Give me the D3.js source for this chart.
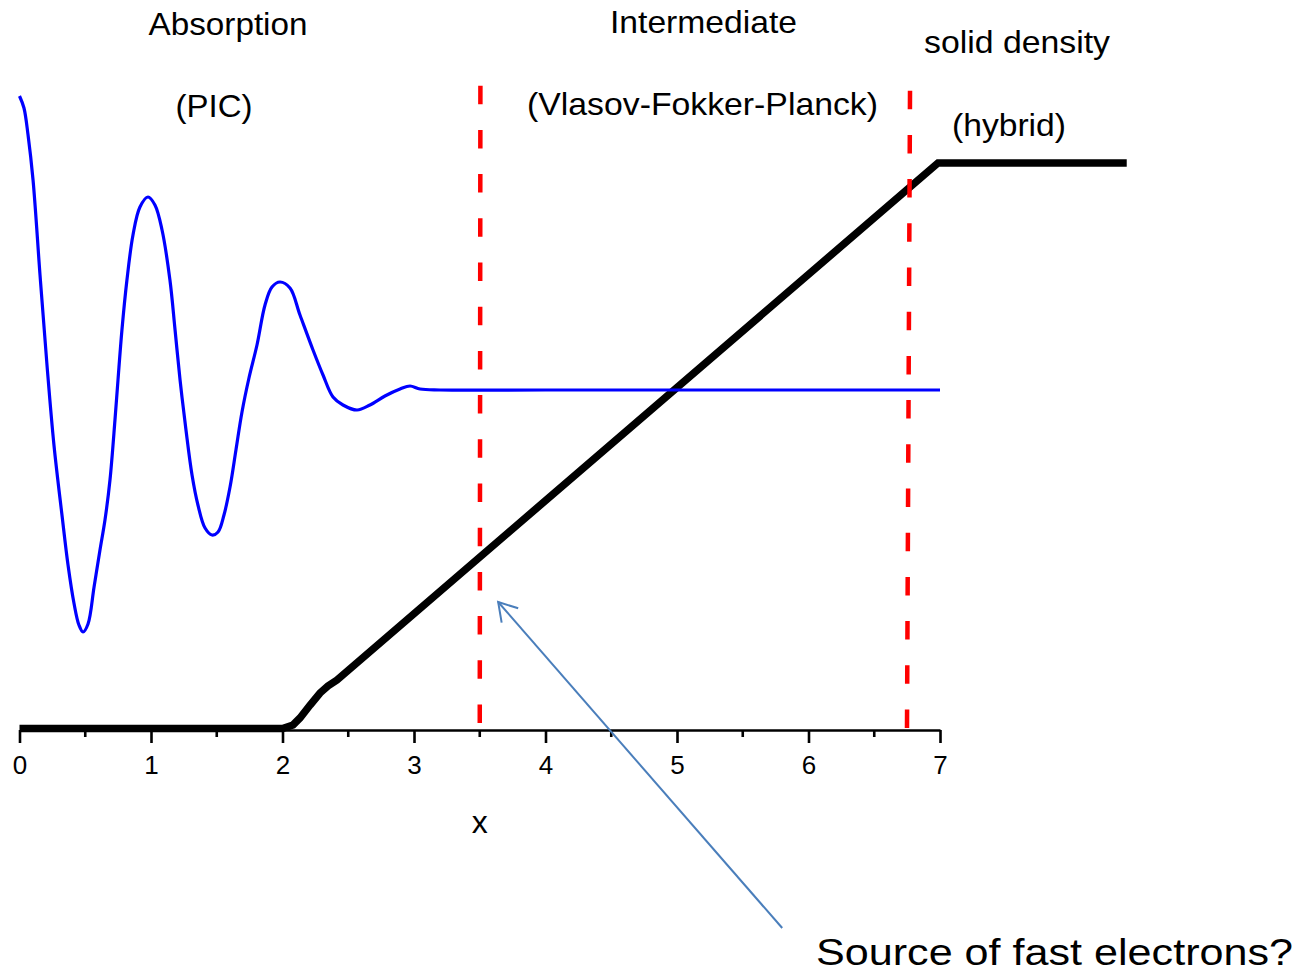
<!DOCTYPE html>
<html>
<head>
<meta charset="utf-8">
<script src="https://cdn.jsdelivr.net/npm/d3@7"></script>
<style>
  html, body { margin: 0; padding: 0; background: #ffffff; }
  svg { display: block; }
  text { font-family: "Liberation Sans", Arial, sans-serif; fill: #000; }
</style>
</head>
<body>
<svg id="chart" width="1303" height="974"></svg>
<script>
// Laser field at the target front: damped oscillation that settles to a constant level
const fieldX = [0.00, 0.034, 0.065, 0.103, 0.156, 0.209, 0.262, 0.323, 0.369, 0.414, 0.452, 0.483, 0.521, 0.567, 0.612, 0.650, 0.688, 0.726, 0.749, 0.779, 0.817, 0.863, 0.916, 0.977, 1.030, 1.084, 1.144, 1.183, 1.221, 1.266, 1.312, 1.357, 1.411, 1.464, 1.510, 1.555, 1.601, 1.646, 1.692, 1.745, 1.806, 1.867, 1.920, 1.981, 2.057, 2.133, 2.232, 2.308, 2.384, 2.460, 2.567, 2.665, 2.779, 2.894, 2.970, 3.046, 3.198, 4.0, 5.0, 6.0, 7.0];
const fieldY = [6.34, 6.22, 5.95, 5.50, 4.55, 3.65, 2.85, 2.15, 1.65, 1.27, 1.05, 0.98, 1.06, 1.43, 1.80, 2.10, 2.50, 3.10, 3.50, 4.00, 4.50, 4.95, 5.23, 5.33, 5.25, 5.00, 4.50, 4.00, 3.50, 3.00, 2.55, 2.25, 2.02, 1.95, 1.98, 2.15, 2.43, 2.80, 3.18, 3.52, 3.85, 4.25, 4.43, 4.48, 4.42, 4.15, 3.80, 3.55, 3.33, 3.25, 3.20, 3.25, 3.34, 3.41, 3.44, 3.41, 3.40, 3.40, 3.40, 3.40, 3.40];

// Density profile: vacuum, ramp, then solid density plateau
const densityX = [0.00, 2.00, 2.08, 2.133, 2.21, 2.285, 2.346, 2.414, 6.985, 8.42];
const densityY = [0.015, 0.015, 0.05, 0.12, 0.25, 0.37, 0.44, 0.50, 5.67, 5.67];

// Region boundaries (dashed): bottom and top ends
const boundaryX0 = [3.50, 6.749];
const boundaryX1 = [3.505, 6.772];
const boundaryYBottom = [0.07, 0.02];
const boundaryYTop = [6.45, 6.40];

// Axis ticks
const majorTicks = [0, 1, 2, 3, 4, 5, 6, 7];
const minorTicks = [0.5, 1.5, 2.5, 3.5, 4.5, 5.5, 6.5];

// Annotation arrow: tail -> tip
const arrowFrom = [5.80, -1.98];
const arrowTo = [3.64, 1.28];

const svg = d3.select("#chart");
svg.append("rect").attr("width", 1303).attr("height", 974).attr("fill", "#fff");

const x = d3.scaleLinear().domain([0, 7]).range([19.5, 940]);
const y = d3.scaleLinear().domain([0, 7.3]).range([730, 0]);

// Region labels
const labels = [
  { t: "Absorption", cx: 228, by: 35, w: 159 },
  { t: "(PIC)", cx: 214, by: 117, w: 77 },
  { t: "Intermediate", cx: 703.5, by: 33, w: 187 },
  { t: "(Vlasov-Fokker-Planck)", cx: 702.5, by: 115, w: 351 },
  { t: "solid density", cx: 1017, by: 53, w: 186 },
  { t: "(hybrid)", cx: 1009, by: 136, w: 114 }
];
svg.selectAll("text.region").data(labels).join("text")
  .attr("class", "region")
  .attr("x", d => d.cx - d.w / 2)
  .attr("y", d => d.by)
  .attr("font-size", 32)
  .attr("textLength", d => d.w)
  .attr("lengthAdjust", "spacingAndGlyphs")
  .text(d => d.t);

// X axis
const axis = d3.axisBottom(x).tickValues(majorTicks).tickSize(13).tickSizeOuter(0).tickPadding(13)
  .tickFormat(d3.format("d"));
const gAxis = svg.append("g").attr("transform", `translate(0,${y(0)})`).call(axis);
gAxis.attr("font-size", 26).attr("font-family", "'Liberation Sans', Arial, sans-serif");
gAxis.select(".domain").attr("stroke", "#000").attr("stroke-width", 2.6);
gAxis.selectAll(".tick line").attr("stroke", "#000").attr("stroke-width", 2.6);
gAxis.selectAll(".tick text").attr("font-size", 26).attr("fill", "#000");
gAxis.selectAll(".minor").data(minorTicks).join("line")
  .attr("class", "minor")
  .attr("x1", d => x(d)).attr("x2", d => x(d))
  .attr("y1", 0).attr("y2", 7)
  .attr("stroke", "#000").attr("stroke-width", 2.6);

svg.append("text").attr("x", x(3.5)).attr("y", 833)
  .attr("text-anchor", "middle").attr("font-size", 32).text("x");

// Density profile
const densityLine = d3.line().x(d => x(d[0])).y(d => y(d[1])).curve(d3.curveLinear);
svg.append("path").datum(densityX.map((v, i) => [v, densityY[i]]))
  .attr("d", densityLine)
  .attr("fill", "none").attr("stroke", "#000")
  .attr("stroke-width", 7.5).attr("stroke-linejoin", "miter");

// Field curve
const fieldLine = d3.line().x(d => x(d[0])).y(d => y(d[1])).curve(d3.curveCatmullRom.alpha(0.5));
svg.append("path").datum(fieldX.map((v, i) => [v, fieldY[i]]))
  .attr("d", fieldLine)
  .attr("fill", "none").attr("stroke", "#0000ff")
  .attr("stroke-width", 3.2).attr("stroke-linejoin", "round");

// Dashed region boundaries, drawn upward so the dash pattern starts at the axis
svg.selectAll("line.boundary").data(boundaryX0).join("line")
  .attr("class", "boundary")
  .attr("x1", (d, i) => x(d)).attr("y1", (d, i) => y(boundaryYBottom[i]))
  .attr("x2", (d, i) => x(boundaryX1[i])).attr("y2", (d, i) => y(boundaryYTop[i]))
  .attr("stroke", "#ff0000").attr("stroke-width", 4.5)
  .attr("stroke-dasharray", "18.5,25.7");

// Annotation arrow with open head
const ax0 = x(arrowFrom[0]), ay0 = y(arrowFrom[1]);
const ax1 = x(arrowTo[0]), ay1 = y(arrowTo[1]);
svg.append("line")
  .attr("x1", ax0).attr("y1", ay0).attr("x2", ax1).attr("y2", ay1)
  .attr("stroke", "#4a7ebb").attr("stroke-width", 2);
const ang = Math.atan2(ay0 - ay1, ax0 - ax1);
const headLen = 21, headAng = 0.55;
const head = [
  [ax1 + headLen * Math.cos(ang - headAng), ay1 + headLen * Math.sin(ang - headAng)],
  [ax1, ay1],
  [ax1 + headLen * Math.cos(ang + headAng), ay1 + headLen * Math.sin(ang + headAng)]
];
svg.append("path").attr("d", d3.line()(head))
  .attr("fill", "none").attr("stroke", "#4a7ebb").attr("stroke-width", 2)
  .attr("stroke-linejoin", "miter");

svg.append("text").attr("x", 816).attr("y", 965)
  .attr("font-family", "Lato, 'Open Sans', sans-serif")
  .attr("font-size", 37)
  .attr("textLength", 477).attr("lengthAdjust", "spacingAndGlyphs")
  .text("Source of fast electrons?");
</script>
</body>
</html>
